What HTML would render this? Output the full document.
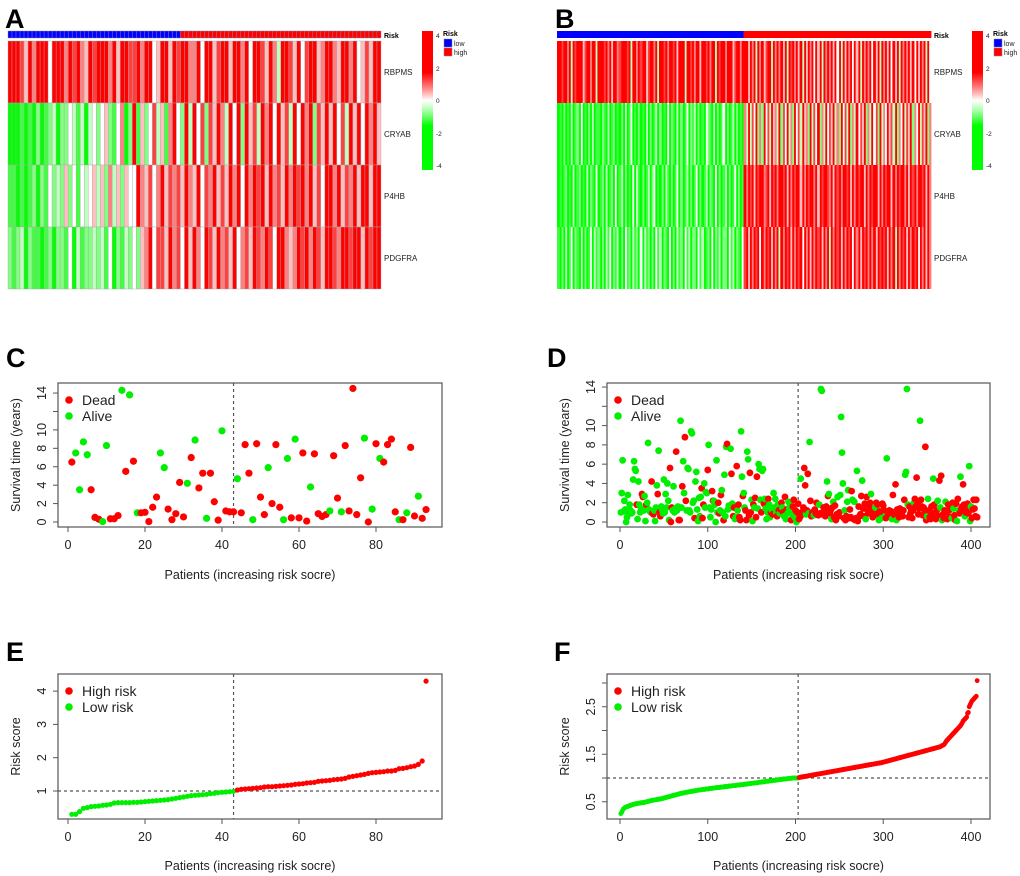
<!DOCTYPE html>
<html><head><meta charset="utf-8"><style>
html,body{margin:0;padding:0;background:#fff;}
svg{display:block;font-family:"Liberation Sans",Arial,sans-serif;}
</style></head><body>
<svg id="fig" width="1020" height="876" viewBox="0 0 1020 876" xmlns="http://www.w3.org/2000/svg">
<defs>
<linearGradient id="keyGrad" x1="0" y1="0" x2="0" y2="1">
<stop offset="0" stop-color="#ff0000"/><stop offset="0.3" stop-color="#ff0000"/>
<stop offset="0.42" stop-color="#ff9090"/><stop offset="0.5" stop-color="#ffffff"/>
<stop offset="0.58" stop-color="#a0ffa0"/><stop offset="0.68" stop-color="#00ff00"/>
<stop offset="1" stop-color="#00ff00"/></linearGradient>
</defs>
<text x="5" y="28" font-size="27" font-weight="bold">A</text>
<text x="555" y="28" font-size="27" font-weight="bold">B</text>
<text x="6" y="367" font-size="27" font-weight="bold">C</text>
<text x="547" y="367" font-size="27" font-weight="bold">D</text>
<text x="6" y="661" font-size="27" font-weight="bold">E</text>
<text x="554" y="661" font-size="27" font-weight="bold">F</text>
</svg>
<script>
// ---------- data ----------
const genes = ["RBPMS","CRYAB","P4HB","PDGFRA"];
const heatA_nLow = 43;
const heatA_n = 93;
const heatA_rows = [
"888758688848886878658788868588778688458858788668488578858868488758638875847885688658868457588",
"000101020123022431303424521460281524735168428384727586384828573868485738486827585847385848685",
"110101202142325241434535263525448657468576758658476857586848687858675868786857488685768588588",
"212302110120221403122323140213242568477586748586487586758467587687488656878687588768878858788"];
const heatB_nLow = 203;
const heatB_n = 407;
const heatB_low = [
"8878868387888578868838887868588678887838868788578868388786887858883887868858878688387886888578868",
"0102010301204010203011021030120102030140102010302013020104021030201402130201042103020140201302010",
"0101201030120103021040120301204013020104031020130240102031020140201302014020130210402013020140201",
"1020301402103020140312020314021302041203120403120204130210402031204130220413012040213022041302104"];
const heatB_high = [
"8858683868578838686858387868583858684858386868584838586848583868684858386858485838686858485868384",
"6383748262847385638274836284738562837482638475836284738263847582638472836485738264837582648375826",
"8687858788678587868878586878858687886858788768587868878586878858687885868788586878868587868878586",
"7858687848687858683868785868784868586878586838687858687848685878686858787858683868785868784868586"];

const C_times = [6.5,7.5,3.5,8.7,7.3,3.5,0.5,0.3,0.05,8.3,0.35,0.35,0.7,14.3,5.5,13.8,6.6,1.0,1.0,1.05,0.05,1.6,2.7,7.5,5.9,1.4,0.25,0.9,4.3,0.55,4.2,7.0,8.9,3.7,5.3,0.4,5.3,2.2,0.2,9.9,1.2,1.1,1.1,4.7,1.0,8.4,5.3,0.25,8.5,2.7,0.8,5.9,2.0,8.4,1.6,0.25,6.9,0.45,9.0,0.45,7.5,0.1,3.8,7.4,0.9,0.6,0.8,1.2,7.2,2.6,1.1,8.3,1.2,14.5,0.8,4.8,9.1,0.0,1.4,8.5,6.9,6.5,8.4,9.0,1.1,0.25,0.25,1.0,8.1,0.65,2.8,0.4,1.35];
const C_status = "100001110011101010111110011111010110111011101110111011100101110111101101111101010111101011011";
const C_cut = 43;

const D_times = [
1.0,3.0,6.4,1.1,2.2,1.3,0.0,0.5,2.8,1.0, 1.8,1.2,0.9,1.0,4.4,6.3,5.5,5.3,1.8,0.3,
4.2,1.8,1.0,1.4,2.9,2.6,1.2,2.7,0.1,1.8, 2.0,8.2,1.3,1.1,1.0,4.2,0.9,0.8,1.2,0.1,
1.5,3.8,2.9,7.4,1.0,0.6,1.6,1.3,0.9,4.4, 1.0,2.9,1.5,4.0,2.2,0.2,5.6,0.0,1.5,1.2,
3.7,1.0,1.4,7.3,1.2,1.6,0.2,0.2,10.5,1.5, 3.7,6.3,3.0,8.8,2.2,1.2,5.6,5.5,1.2,1.0,
9.4,9.2,2.0,2.2,0.4,4.2,5.2,1.3,0.1,2.5, 0.6,2.6,3.5,0.4,1.8,4.0,1.5,3.1,3.0,5.4,
8.0,1.5,0.5,1.3,3.2,2.2,2.2,1.8,0.0,6.4, 1.0,2.0,0.9,1.2,2.8,3.3,1.0,0.2,4.9,0.6,
7.8,8.1,1.3,1.7,1.5,7.6,5.0,1.9,0.6,1.5, 0.3,0.5,5.8,1.2,1.8,0.5,0.2,9.4,4.7,2.7,
3.0,1.5,1.2,0.2,7.3,6.5,0.7,5.1,1.0,2.3, 0.1,1.8,1.5,2.5,0.5,4.7,1.4,6.0,5.5,2.3,
1.0,5.3,5.5,1.9,2.4,1.4,0.3,1.0,2.4,1.8, 0.5,1.0,1.2,0.8,3.0,1.5,2.4,1.0,0.6,1.8,
1.2,0.9,1.3,2.0,1.5,1.0,0.6,2.6,0.3,1.3, 0.9,2.1,1.4,1.7,0.2,0.8,1.6,2.3,0.5,1.2,0.0,1.0,1.9,
0.3,0.5,4.5,1.0,0.8,1.5,5.6,3.8,0.8,1.2, 5.0,0.9,8.3,2.2,0.6,1.0,0.8,0.7,1.3,0.9,
2.0,0.8,0.7,1.8,0.9,13.8,13.6,0.8,1.5,1.1, 0.6,1.6,4.2,2.7,2.9,0.9,1.2,0.3,1.5,2.1,
0.5,1.7,0.2,0.8,2.6,0.6,1.0,2.8,10.9,7.2, 4.0,0.4,1.2,0.2,0.6,2.1,3.3,0.4,1.3,0.5,
3.2,2.3,0.3,2.1,0.2,0.4,5.3,0.1,1.6,0.6, 0.8,2.7,4.3,1.4,0.6,1.9,0.3,2.6,1.2,0.9,
1.7,2.0,2.9,1.3,0.5,1.1,1.0,1.5,2.0,0.8, 1.8,0.2,1.1,0.8,0.4,1.9,1.7,1.2,0.6,0.4,
6.6,1.0,0.8,1.2,0.5,1.1,0.3,2.8,1.0,0.7, 3.9,0.2,1.3,0.9,0.5,1.4,1.0,0.8,0.6,1.2,
2.3,4.9,5.2,13.8,1.8,0.5,1.6,0.9,1.2,0.4, 1.2,2.0,2.4,1.6,4.6,1.9,0.8,1.4,10.5,2.3,
1.6,0.7,1.5,1.0,7.8,0.2,0.6,2.4,1.2,0.5, 0.3,1.6,0.9,4.5,1.8,0.5,0.3,1.2,2.2,0.6,
4.3,1.5,4.8,0.2,0.8,0.4,1.2,2.1,1.0,0.3, 1.8,1.2,0.5,1.5,0.4,2.0,1.4,0.7,0.2,1.9,
0.1,2.4,1.2,0.9,4.7,1.4,1.6,3.9,1.8,0.6, 1.0,1.5,1.9,0.9,5.8,0.1,1.6,0.4,1.3,2.3,
1.4,0.6,2.3,0.5];
const D_status =
"0000000000"+"0000000010"+"0000110001"+"0000011100"+"0010110000"+"0000001110"+"0001001100"+"1001100000"+"0000100000"+"0011100001"+
"0000110000"+"0110100100"+"0100001011"+"0010111001"+"0011001110"+"0101110000"+"1001000010"+"0101000010"+"1011010101"+"0000101101011"+
"1101111101"+"1001111011"+"1110100111"+"1101011010"+"1111011000"+"0101100111"+"1010110111"+"1101110111"+"1101111011"+"1011011101"+
"0111110111"+"1011111111"+"1000011111"+"1011111101"+"1111110011"+"1110111101"+"1010111011"+"1111010111"+"0101011110"+"1111000111"+"1111";
const D_cut = 203;

const E_scores = [.30,.30,.38,.48,.50,.53,.54,.55,.57,.58,.60,.64,.65,.65,.65,.65,.66,.66,.67,.68,.69,.70,.71,.72,.73,.74,.76,.78,.80,.82,.84,.86,.87,.88,.89,.90,.92,.93,.95,.96,.97,.98,.99,
1.03,1.05,1.06,1.07,1.08,1.09,1.10,1.12,1.13,1.13,1.14,1.15,1.16,1.17,1.18,1.20,1.21,1.22,1.24,1.25,1.26,1.29,1.30,1.31,1.32,1.34,1.35,1.36,1.38,1.42,1.44,1.46,1.48,1.50,1.53,1.55,1.56,1.57,1.58,1.60,1.60,1.62,1.67,1.68,1.70,1.73,1.75,1.80,1.90,4.3];
const E_cut = 43;

const F_scores = [
.25,.28,.32,.35,.37,.38,.39,.40,.40,.41, .42,.42,.43,.44,.44,.45,.45,.46,.46,.46,
.47,.47,.47,.48,.48,.48,.48,.49,.49,.50, .50,.51,.51,.52,.52,.53,.53,.53,.54,.54,
.54,.55,.55,.55,.56,.56,.56,.57,.57,.58, .58,.59,.59,.60,.60,.61,.61,.62,.62,.63,
.63,.64,.64,.65,.65,.66,.66,.67,.67,.68, .68,.68,.69,.69,.70,.70,.70,.71,.71,.71,
.72,.72,.72,.73,.73,.73,.74,.74,.74,.75, .75,.75,.75,.76,.76,.76,.76,.77,.77,.77,
.77,.78,.78,.78,.78,.79,.79,.79,.79,.80, .80,.80,.80,.80,.81,.81,.81,.81,.82,.82,
.82,.82,.82,.83,.83,.83,.83,.84,.84,.84, .84,.84,.85,.85,.85,.85,.86,.86,.86,.86,
.86,.87,.87,.87,.87,.88,.88,.88,.88,.89, .89,.89,.89,.90,.90,.90,.90,.91,.91,.91,
.91,.92,.92,.92,.92,.93,.93,.93,.93,.94, .94,.94,.94,.95,.95,.95,.95,.96,.96,.96,
.96,.97,.97,.97,.97,.98,.98,.98,.98,.98, .99,.99,.99,.99,.99,1.0,1.0,1.0,1.0,1.0,1.0,1.0,1.0,
1.01,1.01,1.02,1.02,1.02,1.03,1.03,1.03,1.04,1.04, 1.04,1.05,1.05,1.05,1.06,1.06,1.06,1.07,1.07,1.07,
1.08,1.08,1.08,1.09,1.09,1.09,1.10,1.10,1.10,1.11, 1.11,1.11,1.12,1.12,1.12,1.13,1.13,1.13,1.14,1.14,
1.14,1.15,1.15,1.15,1.16,1.16,1.16,1.17,1.17,1.17, 1.18,1.18,1.18,1.19,1.19,1.19,1.20,1.20,1.20,1.21,
1.21,1.21,1.22,1.22,1.22,1.23,1.23,1.23,1.24,1.24, 1.24,1.25,1.25,1.25,1.26,1.26,1.26,1.27,1.27,1.27,
1.28,1.28,1.28,1.29,1.29,1.29,1.30,1.30,1.30,1.31, 1.31,1.31,1.32,1.32,1.32,1.33,1.33,1.34,1.34,1.35,
1.35,1.36,1.36,1.37,1.37,1.38,1.38,1.39,1.39,1.40, 1.40,1.41,1.41,1.42,1.42,1.43,1.43,1.44,1.44,1.45,
1.45,1.46,1.46,1.47,1.47,1.48,1.48,1.49,1.49,1.50, 1.50,1.51,1.51,1.52,1.52,1.53,1.53,1.54,1.54,1.55,
1.55,1.56,1.56,1.57,1.57,1.58,1.58,1.59,1.59,1.60, 1.60,1.61,1.61,1.62,1.62,1.63,1.63,1.64,1.64,1.65,
1.65,1.66,1.67,1.68,1.69,1.70,1.72,1.75,1.78,1.80, 1.82,1.84,1.86,1.88,1.90,1.92,1.94,1.96,1.98,2.00,
2.02,2.04,2.06,2.08,2.10,2.13,2.16,2.20,2.22,2.24, 2.26,2.28,2.36,2.38,2.50,2.54,2.58,2.62,2.64,2.66,
2.68,2.70,2.72,3.05];
const F_cut = 203;

const survTicks = [0,2,4,6,8,10,12,14];
const survTickLabels = ["0","2","4","6","8","10","","14"];
const xTicksSmall = [0,20,40,60,80];
const xTicksLarge = [0,100,200,300,400];
const eTicks = [1,2,3,4];
const fTicks = [0.5,1,1.5,2,2.5,3];
const fTickLabels = ["0.5","","1.5","","2.5",""];

// ---------- drawing ----------
const NS = "http://www.w3.org/2000/svg";
const svg = document.getElementById("fig");
function mk(tag, attrs, parent){
  const el = document.createElementNS(NS, tag);
  for (const k in attrs) el.setAttribute(k, attrs[k]);
  (parent || svg).appendChild(el);
  return el;
}
function levelColor(ch){
  const v = (parseInt(ch,10) - 4) / 4;
  if (v >= 0){ const g = Math.round(255*(1-v)); return `rgb(255,${g},${g})`; }
  const r = Math.round(255*(1+v)); return `rgb(${r},255,${r})`;
}

function heatmap(cfg){
  const g = mk("g", {});
  
  
  const cw = (cfg.x1 - cfg.x0) / cfg.n;
  const rowTops = [41,103,165,227,289];
  // annotation bar
  for (let i = 0; i < cfg.n; i++){
    const r = mk("rect", {x: cfg.x0 + i*cw, y: 31, width: cw + (cfg.border?0:0.4), height: 7,
      fill: i < cfg.nLow ? "#0000ff" : "#ff0000"}, g);
    if (cfg.border){ r.setAttribute("stroke","#8888aa"); r.setAttribute("stroke-width","0.4"); }
    
    
  }
  for (let row = 0; row < 4; row++){
    for (let i = 0; i < cfg.n; i++){
      const ch = cfg.cell(row, i);
      const r = mk("rect", {x: cfg.x0 + i*cw, y: rowTops[row], width: cw + (cfg.border?0:0.4),
        height: rowTops[row+1]-rowTops[row], fill: levelColor(ch)}, g);
      if (cfg.border){ r.setAttribute("stroke","#aaaaaa"); r.setAttribute("stroke-width","0.4"); }
      
      
    }
    const t = mk("text", {x: cfg.x1 + 3, y: (rowTops[row]+rowTops[row+1])/2 + 3, "font-size": 8, fill:"#222"}, g);
    t.textContent = genes[row];
    
    
  }
  const rl = mk("text", {x: cfg.x1 + 3, y: 38, "font-size": 7, "font-weight":"bold"}, g);
  rl.textContent = "Risk";
  
  
  // color key
  const k = mk("rect", {x: cfg.keyX, y: 31, width: 11, height: 139, fill:"url(#keyGrad)"}, g);
  
  
  const kv = ["4","2","0","-2","-4"], ky = [36,69,101,134,166];
  for (let j = 0; j < 5; j++){
    const t = mk("text", {x: cfg.keyX + 14, y: ky[j]+2, "font-size": 6.5, fill:"#222"}, g);
    t.textContent = kv[j];
    
    
  }
  const lt = mk("text", {x: cfg.keyX + 21, y: 36, "font-size": 7, "font-weight":"bold"}, g);
  lt.textContent = "Risk";
  
  
  const lab = ["low","high"], col = ["#0000ff","#ff0000"];
  for (let j = 0; j < 2; j++){
    const b = mk("rect", {x: cfg.keyX + 22, y: 39 + j*9, width: 8, height: 8, fill: col[j], stroke:"#888", "stroke-width":0.5}, g);
    
    
    const t = mk("text", {x: cfg.keyX + 32, y: 46 + j*9, "font-size": 7, fill:"#222"}, g);
    t.textContent = lab[j];
    
    
  }
}

heatmap({name:"heatmap-a", x0: 8, x1: 381, n: heatA_n, nLow: heatA_nLow, keyX: 422, border: true,
  cell: (row, i) => { const s = heatA_rows[row]; return s.charAt(i % s.length); }});
heatmap({name:"heatmap-b", x0: 557, x1: 931, n: heatB_n, nLow: heatB_nLow, keyX: 972, border: false,
  cell: (row, i) => {
    if (i < heatB_nLow){ const s = heatB_low[row]; return s.charAt(Math.floor(i * s.length / heatB_nLow)); }
    const s = heatB_high[row]; return s.charAt(Math.floor((i-heatB_nLow) * s.length / (heatB_n-heatB_nLow)));
  }});

function plot(cfg){
  const g = mk("g", {});
  
  
  const box = mk("rect", {x: cfg.bx0, y: cfg.by0, width: cfg.bx1-cfg.bx0, height: cfg.by1-cfg.by0, fill:"none", stroke:"#555", "stroke-width":1.2}, g);
  
  
  // x ticks
  cfg.xticks.forEach(v => {
    const x = cfg.xs(v);
    const l = mk("line", {x1:x, x2:x, y1:cfg.by1, y2:cfg.by1+5, stroke:"#555"}, g);
    
    
    const t = mk("text", {x:x, y:cfg.by1+22, "font-size":12.5, "text-anchor":"middle", fill:"#222"}, g);
    t.textContent = String(v);
    
    
  });
  cfg.yticks.forEach((v, j) => {
    const y = cfg.ys(v);
    const l = mk("line", {x1:cfg.bx0-5, x2:cfg.bx0, y1:y, y2:y, stroke:"#555"}, g);
    
    
    const t = mk("text", {x:cfg.bx0-16, y:y, "font-size":12.5, "text-anchor":"middle", fill:"#222",
      transform:`rotate(-90 ${cfg.bx0-16} ${y})`, dy:"4"}, g);
    t.textContent = cfg.ylabels[j];
    
    
  });
  const xt = mk("text", {x:(cfg.bx0+cfg.bx1)/2, y:cfg.xTitleY, "font-size":12.5, "text-anchor":"middle", fill:"#222"}, g);
  xt.textContent = "Patients (increasing risk socre)";
  
  
  const yc = (cfg.by0+cfg.by1)/2, yx = cfg.bx0-42;
  const yt = mk("text", {x:yx, y:yc, "font-size":12.5, "text-anchor":"middle", fill:"#222", transform:`rotate(-90 ${yx} ${yc})`, dy:"4"}, g);
  yt.textContent = cfg.ytitle;
  
  
  // cutoff lines
  const cx = cfg.xs(cfg.cut);
  const vl = mk("line", {x1:cx, x2:cx, y1:cfg.by0, y2:cfg.by1, stroke:"#555", "stroke-dasharray":"3,3", "stroke-width":1.2}, g);
  
  
  if (cfg.hline !== undefined){
    const hy = cfg.ys(cfg.hline);
    const hl = mk("line", {x1:cfg.bx0, x2:cfg.bx1, y1:hy, y2:hy, stroke:"#555", "stroke-dasharray":"3,3", "stroke-width":1.2}, g);
    
    
  }
  // points
  cfg.values.forEach((v, i) => {
    const c = mk("circle", {cx: cfg.xs(i+1), cy: cfg.ys(v), r: cfg.r, fill: cfg.isRed(i) ? "#ff0000" : "#00ee00"}, g);
    
    
  });
  // legend
  const lx = cfg.bx0 + 11, ly = cfg.by0 + 17;
  cfg.legend.forEach((lab, j) => {
    const c = mk("circle", {cx: lx, cy: ly + j*16, r: 3.8, fill: j===0 ? "#ff0000" : "#00ee00"}, g);
    
    
    const t = mk("text", {x: lx + 13, y: ly + j*16 + 5, "font-size": 14, fill:"#222"}, g);
    t.textContent = lab;
    
    
  });
}

plot({name:"survival-scatter-c", bx0:58, bx1:442, by0:383, by1:527, xs:v=>68+v*3.85, ys:v=>522-v*9.21,
  xticks:xTicksSmall, yticks:survTicks, ylabels:survTickLabels, xTitleY:579, ytitle:"Survival time (years)",
  cut:C_cut, values:C_times, isRed:i=>C_status.charAt(i)==="1", r:3.6, legend:["Dead","Alive"],
  redName:"dead-patient-point", greenName:"alive-patient-point"});
plot({name:"survival-scatter-d", bx0:607, bx1:990, by0:383, by1:527, xs:v=>620+v*0.8775, ys:v=>522-v*9.64,
  xticks:xTicksLarge, yticks:survTicks, ylabels:survTickLabels, xTitleY:579, ytitle:"Survival time (years)",
  cut:D_cut, values:D_times, isRed:i=>D_status.charAt(i)==="1", r:3.4, legend:["Dead","Alive"],
  redName:"dead-patient-point", greenName:"alive-patient-point"});
plot({name:"risk-score-e", bx0:58, bx1:442, by0:674, by1:819, xs:v=>68+v*3.85, ys:v=>791-(v-1)*33.3,
  xticks:xTicksSmall, yticks:eTicks, ylabels:eTicks.map(String), xTitleY:870, ytitle:"Risk score",
  cut:E_cut, hline:1, values:E_scores, isRed:i=>i>=E_cut, r:2.6, legend:["High risk","Low risk"],
  redName:"high-risk-point", greenName:"low-risk-point"});
plot({name:"risk-score-f", bx0:607, bx1:990, by0:674, by1:819, xs:v=>620+v*0.8775, ys:v=>778-(v-1)*47.5,
  xticks:xTicksLarge, yticks:fTicks, ylabels:fTickLabels, xTitleY:870, ytitle:"Risk score",
  cut:F_cut, hline:1, values:F_scores, isRed:i=>i>=F_cut, r:2.4, legend:["High risk","Low risk"],
  redName:"high-risk-point", greenName:"low-risk-point"});
</script>
</body></html>
